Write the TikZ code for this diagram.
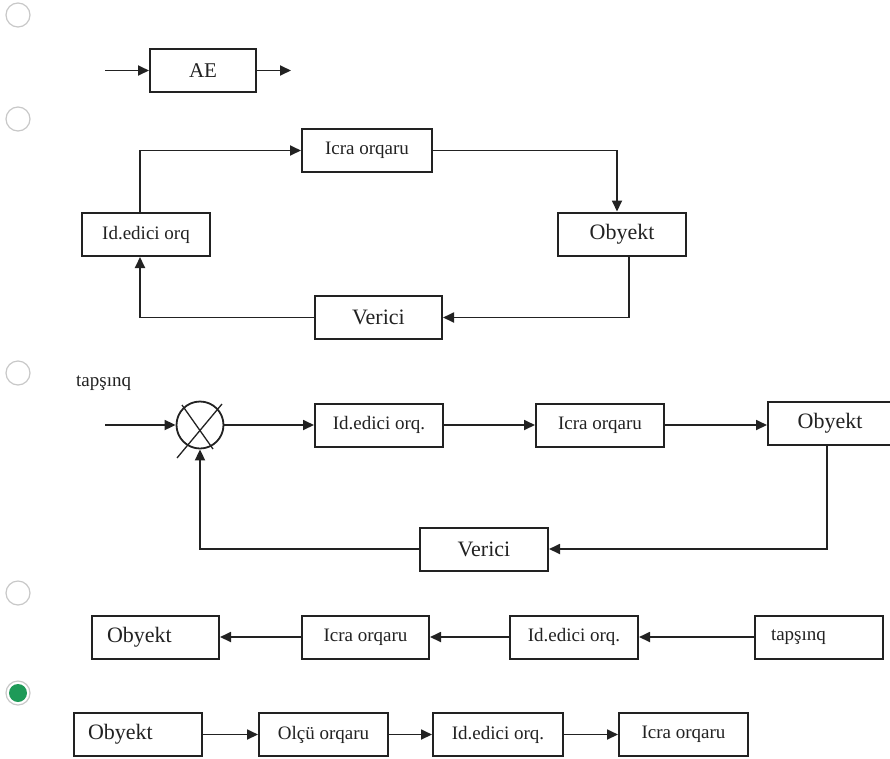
\documentclass[tikz,border=0pt]{standalone}
\usepackage{fontspec}
\setmainfont{Liberation Serif}
\usetikzlibrary{arrows.meta}
\definecolor{ink}{HTML}{222222}
\definecolor{ringgray}{HTML}{C8C8C8}
\definecolor{okgreen}{HTML}{1E9A58}
\tikzset{
  box/.style={draw=ink, line width=2pt, fill=white, inner sep=0pt, minimum height=43pt, text=ink, font=\fontsize{19}{21}\selectfont},
  bigtxt/.style={font=\fontsize{22}{24}\selectfont},
  lefttxt/.style={align=left, inner xsep=15pt},
  conn/.style={draw=ink, line width=1.8pt, -{Triangle[length=11pt,width=10pt]}},
  radio/.style={circle, draw=ringgray, line width=1.2pt, fill=white, minimum size=24pt, inner sep=0pt},
  summer/.style={circle, draw=ink, line width=1.8pt, minimum size=47pt, inner sep=0pt},
  cross/.style={draw=ink, line width=1.3pt}
}
\begin{document}
\begin{tikzpicture}[x=1pt, y=-1pt]
\useasboundingbox (0,0) rectangle (890,758);

% radio buttons
\node[radio] (r1) at (18,15) {};
\node[radio] (r2) at (18,119) {};
\node[radio] (r3) at (18,373) {};
\node[radio] (r4) at (18,593) {};
\node[radio] (r5) at (18,693) {};
\fill[okgreen] (r5.center) circle (9pt);

% ---- diagram 1
\node[box, minimum width=106pt, font=\fontsize{21}{23}\selectfont] (ae) at (203,70.5) {AE};
\coordinate (aein) at (105,70.5);
\coordinate (aeout) at (291,70.5);
\draw[conn] (aein) -- (ae);
\draw[conn] (ae) -- (aeout);

% ---- diagram 2
\node[box, minimum width=130pt] (icra2) at (367,150.5) {Icra orqaru};
\node[box, minimum width=128pt] (ided2) at (146,234.5) {Id.edici orq};
\node[box, bigtxt, minimum width=128pt] (obj2) at (622,234) {Obyekt};
\node[box, bigtxt, minimum width=127pt] (ver2) at (378.5,317.5) {Verici};
\draw[conn] ([xshift=-6pt]ided2.north) |- (icra2.west);
\draw[conn] (icra2.east) -| ([xshift=-5pt]obj2.north);
\draw[conn] ([xshift=7pt]obj2.south) |- (ver2.east);
\draw[conn] (ver2.west) -| ([xshift=-6pt]ided2.south);

% ---- diagram 3
\node[text=ink, font=\fontsize{19}{21}\selectfont, anchor=west, inner sep=0pt] (task3) at (76,383) {tapşınq};
\node[summer] (sum) at (200,425) {};
\draw[cross] ([shift={(-23pt,-33pt)}]sum.center) -- ([shift={(22pt,21pt)}]sum.center);
\draw[cross] ([shift={(13pt,-24pt)}]sum.center) -- ([shift={(-18pt,20pt)}]sum.center);
\node[box, minimum width=128pt] (ided3) at (379,425) {Id.edici orq.};
\node[box, minimum width=128pt] (icra3) at (600,425) {Icra orqaru};
\node[box, bigtxt, minimum width=124pt] (obj3) at (830,423.5) {Obyekt};
\node[box, bigtxt, minimum width=128pt] (ver3) at (484,549) {Verici};
\coordinate (in3) at (105,425);
\draw[conn] (in3) -- (sum);
\draw[conn] (sum) -- (ided3);
\draw[conn] (ided3) -- (icra3);
\draw[conn] (icra3) -- (obj3.west |- icra3.east);
\draw[conn] ([xshift=-3pt]obj3.south) |- (ver3.east);
\draw[conn] (ver3.west) -| (sum.south);

% ---- diagram 4
\node[box, bigtxt, lefttxt, minimum width=127pt, text width=97pt] (obj4) at (155.5,637) {Obyekt};
\node[box, minimum width=127pt] (icra4) at (365.5,637) {Icra orqaru};
\node[box, minimum width=128pt] (ided4) at (574,637) {Id.edici orq.};
\node[box, lefttxt, minimum width=128pt, text width=96pt, inner xsep=16pt] (task4) at (819,637) {tapşınq};
\draw[conn] (task4) -- (ided4);
\draw[conn] (ided4) -- (icra4);
\draw[conn] (icra4) -- (obj4);

% ---- diagram 5
\node[box, bigtxt, lefttxt, minimum width=128pt, text width=100pt, inner xsep=14pt] (obj5) at (138,734.5) {Obyekt};
\node[box, minimum width=129pt] (olcu5) at (323.5,734.5) {Olçü orqaru};
\node[box, minimum width=130pt] (ided5) at (498,734.5) {Id.edici orq.};
\node[box, minimum width=129pt] (icra5) at (683.5,734.5) {Icra orqaru};
\draw[conn] (obj5) -- (olcu5);
\draw[conn] (olcu5) -- (ided5);
\draw[conn] (ided5) -- (icra5);
\end{tikzpicture}
\end{document}
